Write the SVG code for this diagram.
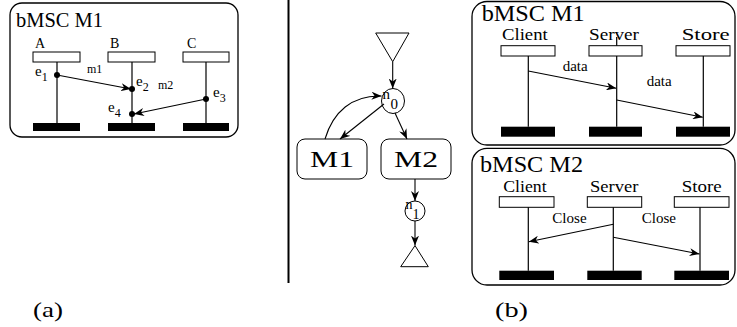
<svg xmlns="http://www.w3.org/2000/svg" width="737" height="327" viewBox="0 0 737 327" font-family="'Liberation Serif', 'Times New Roman', Times, serif">
<defs>
<marker id="ah" markerUnits="userSpaceOnUse" markerWidth="11" markerHeight="8" refX="10" refY="4" orient="auto">
<path d="M0,0 L10,4 L0,8 L3,4 z" fill="#000"/>
</marker>
<style>
text{fill:#000}
.frame{fill:#fff;stroke:#000;stroke-width:1.3}
.head{fill:#fff;stroke:#000;stroke-width:1}
.bar{fill:#000}
.life{stroke:#000;stroke-width:1.2}
.msg{stroke:#000;stroke-width:1.1;fill:none;marker-end:url(#ah)}
.dot{fill:#000}
</style>
</defs>
<rect width="737" height="327" fill="#fff"/>

<!-- (a) -->
<g id="bmsc-a">
<rect class="frame" x="10" y="3" width="228" height="134" rx="12"/>
<text x="16" y="27" font-size="21" textLength="87" lengthAdjust="spacingAndGlyphs">bMSC M1</text>
<text x="35" y="48" font-size="14">A</text>
<text x="110" y="48" font-size="14">B</text>
<text x="187" y="48" font-size="14">C</text>
<rect class="head" x="33" y="52" width="47" height="10"/>
<rect class="head" x="108" y="52" width="47" height="10"/>
<rect class="head" x="183" y="52" width="46" height="10"/>
<line class="life" x1="57" y1="62" x2="57" y2="123"/>
<line class="life" x1="132" y1="62" x2="132" y2="123"/>
<line class="life" x1="206" y1="62" x2="206" y2="123"/>
<rect class="bar" x="33" y="123" width="47" height="8"/>
<rect class="bar" x="108" y="123" width="47" height="8"/>
<rect class="bar" x="183" y="123" width="46" height="8"/>
<circle class="dot" cx="57" cy="75" r="3"/>
<circle class="dot" cx="132" cy="89" r="3"/>
<circle class="dot" cx="206" cy="99" r="3"/>
<circle class="dot" cx="132" cy="114" r="3"/>
<text x="35" y="76" font-size="15">e<tspan font-size="12" dy="5">1</tspan></text>
<text x="136" y="86" font-size="15">e<tspan font-size="12" dy="5">2</tspan></text>
<text x="213" y="97" font-size="15">e<tspan font-size="12" dy="5">3</tspan></text>
<text x="108" y="112" font-size="15">e<tspan font-size="12" dy="5">4</tspan></text>
<text x="87" y="73" font-size="12">m1</text>
<text x="158" y="89" font-size="12">m2</text>
</g>
<g id="msgs-a">
<line class="msg" x1="57" y1="75" x2="131" y2="89"/>
<line class="msg" x1="206" y1="99" x2="134" y2="114"/>
</g>

<!-- separator -->
<line x1="288.5" y1="0" x2="288.5" y2="283" stroke="#000" stroke-width="2"/>

<!-- HMSC graph -->
<g id="start"><polygon points="375.7,33 409,33 392.7,61.7" fill="#fff" stroke="#000" stroke-width="1"/></g>
<g id="n0">
<ellipse cx="393" cy="101" rx="11.5" ry="12.5" fill="#fff" stroke="#000" stroke-width="1"/>
<text x="382.5" y="98.5" font-size="15">n</text>
<text x="390.5" y="108.5" font-size="15">0</text>
</g>
<g id="M1">
<rect x="297" y="139" width="70" height="40" rx="8" fill="#fff" stroke="#000" stroke-width="1"/>
<text x="310" y="167" font-size="23" textLength="44" lengthAdjust="spacingAndGlyphs">M1</text>
</g>
<g id="M2">
<rect x="381" y="139" width="70" height="40" rx="8" fill="#fff" stroke="#000" stroke-width="1"/>
<text x="394" y="167" font-size="23" textLength="44" lengthAdjust="spacingAndGlyphs">M2</text>
</g>
<g id="n1">
<circle cx="415" cy="211" r="10" fill="#fff" stroke="#000" stroke-width="1"/>
<text x="405.5" y="209" font-size="14">n</text>
<text x="412.5" y="219" font-size="14">1</text>
</g>
<g id="end"><polygon points="415,245.6 400.7,266.7 428.3,266.7" fill="#fff" stroke="#000" stroke-width="1"/></g>
<g id="edges">
<line class="msg" x1="392.7" y1="61.7" x2="392.7" y2="88.5"/>
<line class="msg" x1="384" y1="104" x2="340" y2="139"/>
<path class="msg" d="M325,139 C333,112 352,95 381.5,96"/>
<line class="msg" x1="395" y1="113" x2="407" y2="139"/>
<line class="msg" x1="415" y1="179" x2="415" y2="201"/>
<line class="msg" x1="415" y1="221" x2="415" y2="245.6"/>
</g>

<!-- (b) M1 -->
<g id="bmsc-b1">
<rect class="frame" x="472" y="1.5" width="263" height="143.5" rx="15"/>
<text x="481.7" y="20.7" font-size="24" textLength="103" lengthAdjust="spacingAndGlyphs">bMSC M1</text>
<text x="502" y="40" font-size="17" textLength="45.7" lengthAdjust="spacingAndGlyphs">Client</text>
<text x="589" y="40" font-size="17" textLength="50" lengthAdjust="spacingAndGlyphs">Server</text>
<text x="681.7" y="40" font-size="17" textLength="48" lengthAdjust="spacingAndGlyphs">Store</text>
<rect class="head" x="501" y="45.7" width="54" height="10.3"/>
<rect class="head" x="589" y="45.7" width="53" height="10.3"/>
<rect class="head" x="676" y="45.7" width="54" height="10.3"/>
<line class="life" x1="616.7" y1="37" x2="616.7" y2="45.7"/>
<line class="life" x1="528.3" y1="56" x2="528.3" y2="126.7"/>
<line class="life" x1="616.7" y1="56" x2="616.7" y2="126.7"/>
<line class="life" x1="703.3" y1="56" x2="703.3" y2="126.7"/>
<rect class="bar" x="501" y="126.7" width="54" height="10"/>
<rect class="bar" x="589" y="126.7" width="53" height="10"/>
<rect class="bar" x="676" y="126.7" width="54" height="10"/>
<text x="562.7" y="71" font-size="14" textLength="25" lengthAdjust="spacingAndGlyphs">data</text>
<text x="646.7" y="86" font-size="14" textLength="25" lengthAdjust="spacingAndGlyphs">data</text>
</g>
<g id="msgs-b1">
<line class="msg" x1="528.3" y1="71" x2="616.2" y2="88.3"/>
<line class="msg" x1="616.7" y1="100" x2="702.8" y2="117.3"/>
</g>

<!-- (b) M2 -->
<g id="bmsc-b2">
<rect class="frame" x="472" y="148.3" width="263" height="136.7" rx="15"/>
<text x="480" y="171.7" font-size="24" textLength="103" lengthAdjust="spacingAndGlyphs">bMSC M2</text>
<text x="503.3" y="191.7" font-size="17" textLength="43.3" lengthAdjust="spacingAndGlyphs">Client</text>
<text x="590" y="191.7" font-size="17" textLength="48.3" lengthAdjust="spacingAndGlyphs">Server</text>
<text x="681.7" y="191.7" font-size="17" textLength="40" lengthAdjust="spacingAndGlyphs">Store</text>
<rect class="head" x="499.3" y="196.7" width="54.7" height="10.6"/>
<rect class="head" x="587.3" y="196.7" width="54.4" height="10.6"/>
<rect class="head" x="674.3" y="196.7" width="54.7" height="10.6"/>
<line class="life" x1="528.3" y1="207.3" x2="528.3" y2="270.7"/>
<line class="life" x1="613.3" y1="207.3" x2="613.3" y2="270.7"/>
<line class="life" x1="700" y1="207.3" x2="700" y2="270.7"/>
<rect class="bar" x="499.3" y="270.7" width="54.7" height="9.3"/>
<rect class="bar" x="587.3" y="270.7" width="54.4" height="9.3"/>
<rect class="bar" x="674.3" y="270.7" width="54.7" height="9.3"/>
<text x="552.3" y="223.3" font-size="14" textLength="34.3" lengthAdjust="spacingAndGlyphs">Close</text>
<text x="641.7" y="223.3" font-size="14" textLength="34.3" lengthAdjust="spacingAndGlyphs">Close</text>
</g>
<g id="msgs-b2">
<line class="msg" x1="613.3" y1="224.3" x2="528.8" y2="241.7"/>
<line class="msg" x1="613.3" y1="237.3" x2="699.5" y2="254"/>
</g>

<!-- captions -->
<text x="33" y="317" font-size="22" textLength="30" lengthAdjust="spacingAndGlyphs">(a)</text>
<text x="495" y="317" font-size="22" textLength="33" lengthAdjust="spacingAndGlyphs">(b)</text>
</svg>
